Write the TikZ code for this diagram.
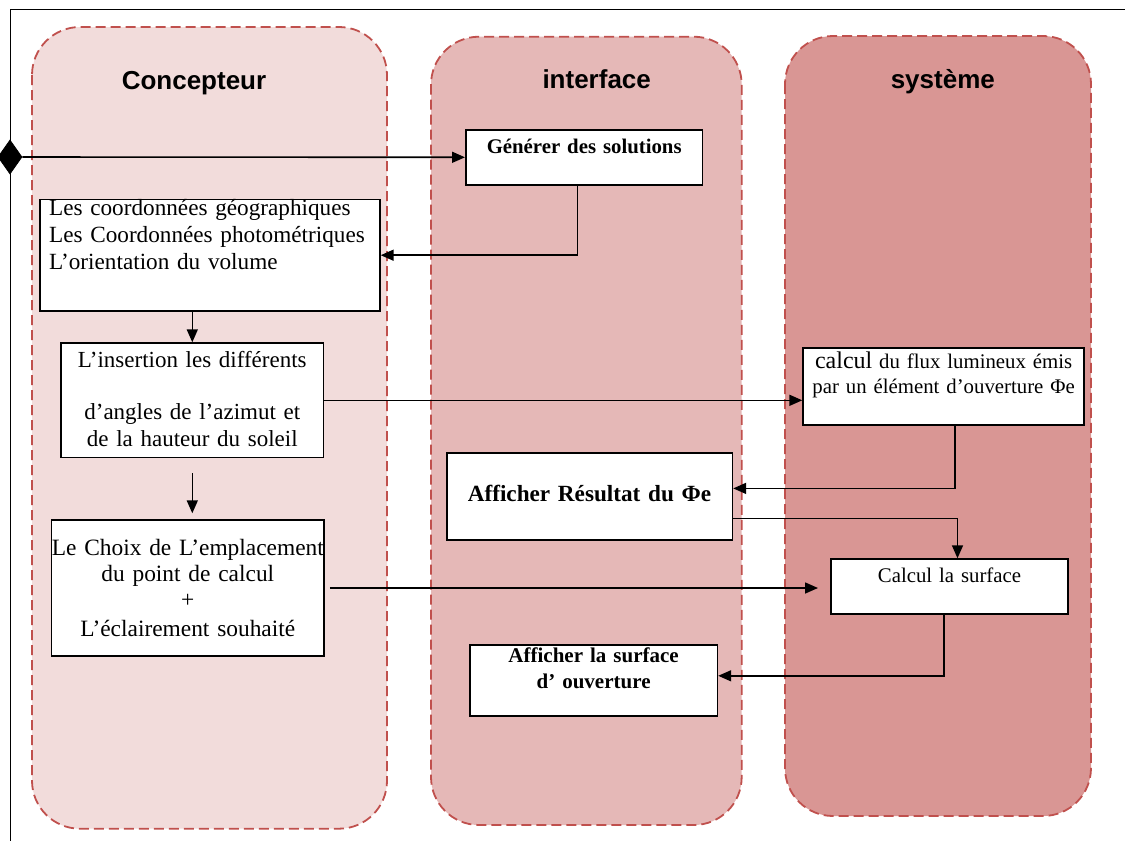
\documentclass[tikz,border=0pt]{standalone}
\usepackage{fontspec}
\setmainfont{Liberation Serif}
\setsansfont{Liberation Sans}
\usetikzlibrary{arrows.meta,shapes.geometric}

\definecolor{laneconc}{HTML}{F2DCDB}
\definecolor{laneint}{HTML}{E5B8B7}
\definecolor{lanesys}{HTML}{D99694}
\definecolor{laneline}{HTML}{C0504D}

\begin{document}
\begin{tikzpicture}[x=0.5pt,y=-0.5pt,
    lane/.style={draw=laneline, dash pattern=on 5pt off 2.5pt, line width=0.9pt, rounded corners=24pt},
    title/.style={anchor=base, font=\sffamily\bfseries\fontsize{13}{15}\selectfont},
    box/.style={draw, fill=white, line width=0.8pt, anchor=north west, inner ysep=0pt, inner xsep=3pt},
    arr/.style={-{Triangle[length=6.5pt,width=5.5pt]}, line width=0.8pt}]
  \useasboundingbox (0,0) rectangle (1125,841);

  \draw[lane, fill=laneconc] (32,27) rectangle (387,828.7);
  \draw[lane, fill=laneint] (431,36.7) rectangle (741.7,825);
  \draw[lane, fill=lanesys] (785,36) rectangle (1091,816);
  \draw[line width=0.5pt] (10,841) -- (10,9) -- (1125,9);

  \node[title] (tconc) at (194,89.3) {Concepteur};
  \node[title] (tint) at (596.7,88.3) {interface};
  \node[title] (tsys) at (942.8,88.3) {système};

  \node[diamond, fill=black, draw=black, inner sep=0pt, minimum width=12pt, minimum height=17pt] (start) at (10,157) {};

  \node[box, minimum width=118.4pt, minimum height=27.5pt, text width=112.4pt, align=center,
    text height=8pt, text depth=12.2pt, font=\bfseries\fontsize{10.4}{12}\selectfont]
    (gen) at (465,129) {Générer des solutions};
  \node[box, inner xsep=4.5pt, minimum width=169.9pt, minimum height=55.7pt, text width=160.9pt, align=left,
    text height=7.5pt, text depth=46.9pt, font=\fontsize{11.6}{13.5}\selectfont]
    (coord) at (39.3,198.7) {Les coordonnées géographiques\\Les Coordonnées photométriques\\L’orientation du volume};
  \node[box, minimum width=131.2pt, minimum height=57.2pt, text width=125.2pt, align=center,
    text height=9pt, text depth=41.8pt, font=\fontsize{11.5}{13.8}\selectfont]
    (insert) at (60.3,342.3) {L’insertion les différents\\[12pt]d’angles de l’azimut et\\de la hauteur du soleil};
  \node[box, inner xsep=0pt, minimum width=136.3pt, minimum height=67.9pt, text width=136.3pt, align=center,
    text height=9pt, text depth=41.2pt, font=\fontsize{11.7}{12.6}\selectfont]
    (choix) at (50.7,519.3) {Le Choix de L’emplacement\\du point de calcul\\[0.5pt]+\\[2pt]L’éclairement souhaité};
  \node[box, minimum width=140.5pt, minimum height=38.5pt, text width=134.5pt, align=center,
    text height=8pt, text depth=26.5pt, font=\fontsize{10.4}{12.7}\selectfont]
    (flux) at (802.3,347.3) {{\fontsize{12}{12.7}\selectfont calcul} du flux lumineux émis\\par un élément d’ouverture Φe};
  \node[box, inner xsep=0pt, minimum width=142.8pt, minimum height=43.3pt, text width=142.8pt, align=left,
    text height=9pt, text depth=4pt, font=\bfseries\fontsize{11.6}{14}\selectfont]
    (res) at (446,452.3) {\hspace*{10.5pt}Afficher Résultat du Φe};
  \node[box, minimum width=118.7pt, minimum height=27.5pt, text width=112.7pt, align=center,
    text height=8pt, text depth=12.1pt, font=\fontsize{10.4}{12.5}\selectfont]
    (calc) at (830,558.3) {Calcul la surface};
  \node[box, minimum width=123.8pt, minimum height=35.5pt, text width=117.8pt, align=center,
    text height=8pt, text depth=25.8pt, font=\bfseries\fontsize{10.5}{12.8}\selectfont]
    (aff) at (469,644) {Afficher la surface\\d’ ouverture};

  \begin{scope}[arr]
    \draw (start) -- (gen.west);
    \draw ([xshift=-3.35pt]gen.south) |- (coord.east);
    \draw (coord.south -| insert.north) -- (insert.north);
    \draw[shorten <=7.5pt, shorten >=3pt] (insert.south) -- (insert.south |- choix.north);
    \draw (insert.east) -- (insert.east -| flux.west);
    \draw ([xshift=5.75pt]flux.south) |- ([yshift=4pt]res.east);
    \draw ([yshift=-11pt]res.east) -| ([xshift=4pt]calc.north);
    \draw[shorten <=2.5pt, shorten >=6pt] (choix.east) -- (choix.east -| calc.west);
    \draw ([xshift=-2.7pt]calc.south) |- ([yshift=2.25pt]aff.east);
  \end{scope}
\end{tikzpicture}
\end{document}
